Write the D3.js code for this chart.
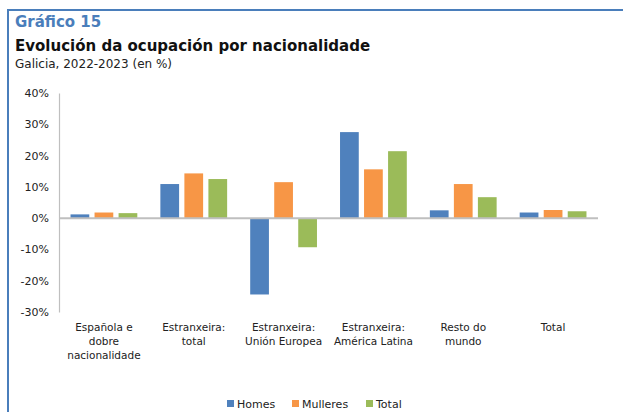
<!DOCTYPE html>
<html>
<head>
<meta charset="utf-8">
<script src="https://cdn.jsdelivr.net/npm/d3@7"></script>
<style>
  body { margin: 0; background: #fff; }
  text { font-family: "DejaVu Sans", "Open Sans", sans-serif; }
</style>
</head>
<body>
<div id="chart"></div>
<script>
// categories and series (percent change 2022-2023)
const categories = [
  ["Española e", "dobre", "nacionalidade"],
  ["Estranxeira:", "total"],
  ["Estranxeira:", "Unión Europea"],
  ["Estranxeira:", "América Latina"],
  ["Resto do", "mundo"],
  ["Total"]
];
const series = ["Homes", "Mulleres", "Total"];
const homes    = [1.2, 10.9, -24.4, 27.5, 2.5, 1.8];
const mulleres = [1.8, 14.3, 11.5, 15.6, 10.9, 2.6];
const total    = [1.6, 12.5, -9.3, 21.4, 6.7, 2.2];
const yTicks = [40, 30, 20, 10, 0, -10, -20, -30];
const colors = ["#4f81bd", "#f79646", "#9bbb59"];

const width = 623, height = 412;
const margin = { top: 93, right: 25, bottom: 100, left: 59 };

const data = categories.map((c, i) => ({
  key: i, label: c, values: [homes[i], mulleres[i], total[i]]
}));

const svg = d3.select("#chart").append("svg")
  .attr("width", width).attr("height", height);

// frame
svg.append("path")
  .attr("d", `M8,${height} L8,10 L${width},10`)
  .attr("fill", "none")
  .attr("stroke", "#4a7ebb")
  .attr("stroke-width", 2);

// titles
svg.append("text").attr("x", 15).attr("y", 27)
  .style("font-size", "15px").style("font-weight", "bold").style("fill", "#4a7ebb")
  .text("Gráfico 15");
svg.append("text").attr("x", 15).attr("y", 51)
  .style("font-size", "15px").style("font-weight", "bold").style("fill", "#111")
  .text("Evolución da ocupación por nacionalidade");
svg.append("text").attr("x", 15).attr("y", 68)
  .style("font-size", "12px").style("fill", "#222")
  .text("Galicia, 2022-2023 (en %)");

const x = d3.scaleBand()
  .domain(data.map(d => d.key))
  .range([margin.left, width - margin.right]);

const xInner = d3.scaleBand()
  .domain(series.map((s, i) => i))
  .range([0, x.bandwidth()])
  .paddingInner(0.22)
  .paddingOuter(0.48);

const y = d3.scaleLinear()
  .domain([-30, 40])
  .range([height - margin.bottom, margin.top]);

// y axis
const yAxis = svg.append("g")
  .attr("transform", `translate(${margin.left},0)`)
  .call(d3.axisLeft(y).tickValues(yTicks).tickSize(0).tickPadding(10)
    .tickFormat(d => d + "%"));
yAxis.select(".domain").attr("stroke", "#bfbfbf").attr("stroke-width", 1.2);
yAxis.selectAll("text").style("font-size", "11px").style("fill", "#222")
  .style("font-family", "'DejaVu Sans', 'Open Sans', sans-serif");

// bars
const group = svg.selectAll(".grp")
  .data(data)
  .join("g")
  .attr("class", "grp")
  .attr("transform", d => `translate(${x(d.key)},0)`);

group.selectAll("rect")
  .data(d => d.values.map((v, i) => ({ v, i })))
  .join("rect")
  .attr("x", d => xInner(d.i))
  .attr("width", xInner.bandwidth())
  .attr("y", d => y(Math.max(0, d.v)))
  .attr("height", d => Math.abs(y(d.v) - y(0)))
  .attr("fill", d => colors[d.i]);

// zero line
svg.append("line")
  .attr("x1", margin.left).attr("x2", width - margin.right)
  .attr("y1", y(0)).attr("y2", y(0))
  .attr("stroke", "#bfbfbf").attr("stroke-width", 2);

// category labels
const lbl = svg.selectAll(".cat")
  .data(data)
  .join("text")
  .attr("class", "cat")
  .attr("text-anchor", "middle")
  .style("font-size", "10.5px").style("fill", "#222");
lbl.selectAll("tspan")
  .data(d => d.label.map(t => ({ t, d })))
  .join("tspan")
  .attr("x", d => x(d.d.key) + x.bandwidth() / 2)
  .attr("y", (d, i) => 331 + i * 14)
  .text(d => d.t);

// legend
const legendX = [227, 292, 366];
const leg = svg.selectAll(".leg")
  .data(series)
  .join("g")
  .attr("class", "leg")
  .attr("transform", (d, i) => `translate(${legendX[i]},400)`);
leg.append("rect").attr("width", 7).attr("height", 7).attr("fill", (d, i) => colors[i]);
leg.append("text").attr("x", 10).attr("y", 8)
  .style("font-size", "11px").style("fill", "#222")
  .text(d => d);
</script>
</body>
</html>
